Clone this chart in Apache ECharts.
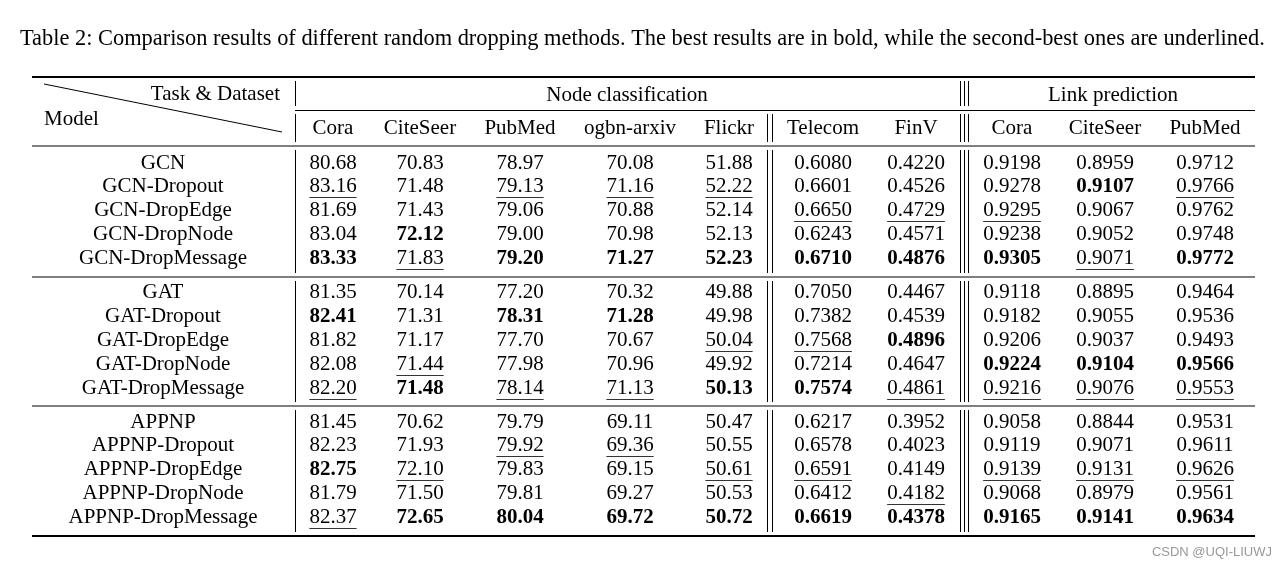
<!DOCTYPE html>
<html>
<head>
<meta charset="utf-8">
<script src="https://cdn.jsdelivr.net/npm/echarts@6/dist/echarts.min.js"></script>
<style>
  html, body { margin: 0; padding: 0; background: #fff; }
  #main { width: 1287px; height: 568px; }
</style>
</head>
<body>
<div id="main"></div>
<script>
// ---- data ----
const TITLE = 'Table 2: Comparison results of different random dropping methods. The best results are in bold, while the second-best ones are underlined.';
const TASKS = ['Node classification', 'Link prediction'];
const DATASETS = ['Cora', 'CiteSeer', 'PubMed', 'ogbn-arxiv', 'Flickr', 'Telecom', 'FinV', 'Cora', 'CiteSeer', 'PubMed'];
const DECIMALS = [2, 2, 2, 2, 2, 4, 4, 4, 4, 4];

const MODELS = [
  'GCN', 'GCN-Dropout', 'GCN-DropEdge', 'GCN-DropNode', 'GCN-DropMessage',
  'GAT', 'GAT-Dropout', 'GAT-DropEdge', 'GAT-DropNode', 'GAT-DropMessage',
  'APPNP', 'APPNP-Dropout', 'APPNP-DropEdge', 'APPNP-DropNode', 'APPNP-DropMessage'
];

const SCORES = [
  [80.68, 70.83, 78.97, 70.08, 51.88, 0.6080, 0.4220, 0.9198, 0.8959, 0.9712],
  [83.16, 71.48, 79.13, 71.16, 52.22, 0.6601, 0.4526, 0.9278, 0.9107, 0.9766],
  [81.69, 71.43, 79.06, 70.88, 52.14, 0.6650, 0.4729, 0.9295, 0.9067, 0.9762],
  [83.04, 72.12, 79.00, 70.98, 52.13, 0.6243, 0.4571, 0.9238, 0.9052, 0.9748],
  [83.33, 71.83, 79.20, 71.27, 52.23, 0.6710, 0.4876, 0.9305, 0.9071, 0.9772],
  [81.35, 70.14, 77.20, 70.32, 49.88, 0.7050, 0.4467, 0.9118, 0.8895, 0.9464],
  [82.41, 71.31, 78.31, 71.28, 49.98, 0.7382, 0.4539, 0.9182, 0.9055, 0.9536],
  [81.82, 71.17, 77.70, 70.67, 50.04, 0.7568, 0.4896, 0.9206, 0.9037, 0.9493],
  [82.08, 71.44, 77.98, 70.96, 49.92, 0.7214, 0.4647, 0.9224, 0.9104, 0.9566],
  [82.20, 71.48, 78.14, 71.13, 50.13, 0.7574, 0.4861, 0.9216, 0.9076, 0.9553],
  [81.45, 70.62, 79.79, 69.11, 50.47, 0.6217, 0.3952, 0.9058, 0.8844, 0.9531],
  [82.23, 71.93, 79.92, 69.36, 50.55, 0.6578, 0.4023, 0.9119, 0.9071, 0.9611],
  [82.75, 72.10, 79.83, 69.15, 50.61, 0.6591, 0.4149, 0.9139, 0.9131, 0.9626],
  [81.79, 71.50, 79.81, 69.27, 50.53, 0.6412, 0.4182, 0.9068, 0.8979, 0.9561],
  [82.37, 72.65, 80.04, 69.72, 50.72, 0.6619, 0.4378, 0.9165, 0.9141, 0.9634]
];

// column indexes of best (bold) / second-best (underlined) per row
const BEST = [
  [], [8], [], [1], [0, 2, 3, 4, 5, 6, 7, 9],
  [], [0, 2, 3], [6], [7, 8, 9], [1, 4, 5],
  [], [], [0], [], [1, 2, 3, 4, 5, 6, 7, 8, 9]
];
const SECOND = [
  [], [0, 2, 3, 4, 9], [5, 6, 7], [], [1, 8],
  [], [], [4, 5], [1], [0, 2, 3, 6, 7, 8, 9],
  [], [2, 3], [1, 4, 5, 7, 8, 9], [6], [0]
];

// ---- layout (table coordinates, px) ----
const COL_X = [333, 420, 520, 630, 729, 823, 916, 1012, 1105, 1205];
const MODEL_X = 163;
const HEAD1_Y = 95, HEAD2_Y = 128;
const GROUP_Y = [163, 292.5, 422];
const ROW_STEP = 23.9;
const LEFT = 32, RIGHT = 1255;
const FONT = '"Liberation Serif", "Times New Roman", serif';
const SIZE = 21;

const measureCtx = document.createElement('canvas').getContext('2d');
function textWidth(text, font) {
  measureCtx.font = font;
  return measureCtx.measureText(text).width;
}

function rowY(r) {
  return GROUP_Y[Math.floor(r / 5)] + (r % 5) * ROW_STEP;
}

// text cells
const cells = [];
cells.push({ x: 280, y: 94, text: 'Task & Dataset', align: 'right' });
cells.push({ x: 44, y: 119, text: 'Model', align: 'left' });
cells.push({ x: 627, y: HEAD1_Y, text: TASKS[0], align: 'center' });
cells.push({ x: 1113, y: HEAD1_Y, text: TASKS[1], align: 'center' });
DATASETS.forEach((d, c) => cells.push({ x: COL_X[c], y: HEAD2_Y, text: d, align: 'center' }));
MODELS.forEach((m, r) => {
  cells.push({ x: MODEL_X, y: rowY(r), text: m, align: 'center' });
  SCORES[r].forEach((v, c) => {
    cells.push({
      x: COL_X[c], y: rowY(r), text: v.toFixed(DECIMALS[c]), align: 'center',
      bold: BEST[r].indexOf(c) >= 0, under: SECOND[r].indexOf(c) >= 0
    });
  });
});

// rules: [x1, y1, x2, y2, width]
const rules = [
  [LEFT, 77, RIGHT, 77, 2],
  [295, 110.5, RIGHT, 110.5, 1],
  [LEFT, 146, RIGHT, 146, 1.2],
  [LEFT, 277, RIGHT, 277, 1.2],
  [LEFT, 406, RIGHT, 406, 1.2],
  [LEFT, 536, RIGHT, 536, 2],
  [44, 84, 282, 132, 1]
];
const SEG_ALL = [[81, 106], [114, 142], [150, 273], [281, 402], [410, 532]];
const SEG_LOW = SEG_ALL.slice(1);
[[295.5, SEG_ALL], [767.5, SEG_LOW], [772.5, SEG_LOW],
 [960.5, SEG_ALL], [964.5, SEG_ALL], [968.5, SEG_ALL]].forEach(([x, segs]) => {
  segs.forEach(s => rules.push([x, s[0], x, s[1], 1]));
});

function renderCell(params, api) {
  const cell = cells[params.dataIndex];
  const p = api.coord([api.value(0), api.value(1)]);
  const font = (cell.bold ? 'bold ' : '') + SIZE + 'px ' + FONT;
  const children = [{
    type: 'text',
    x: p[0],
    y: p[1],
    style: { text: cell.text, font: font, fill: '#000', align: cell.align, verticalAlign: 'middle' }
  }];
  if (cell.under) {
    const w = textWidth(cell.text, font);
    const uy = Math.round(p[1] + 10.5) + 0.5;
    children.push({
      type: 'line',
      shape: { x1: p[0] - w / 2, y1: uy, x2: p[0] + w / 2, y2: uy },
      style: { stroke: '#333', lineWidth: 1 }
    });
  }
  return { type: 'group', children: children };
}

function renderRule(params, api) {
  const a = api.coord([api.value(0), api.value(1)]);
  const b = api.coord([api.value(2), api.value(3)]);
  return {
    type: 'line',
    shape: { x1: a[0], y1: a[1], x2: b[0], y2: b[1] },
    style: { stroke: '#000', lineWidth: api.value(4) }
  };
}

const chart = echarts.init(document.getElementById('main'), null, { renderer: 'canvas' });
const option = {
  animation: false,
  backgroundColor: '#fff',
  title: [
    {
      text: TITLE,
      left: 15,
      top: 23,
      textStyle: { fontFamily: FONT, fontSize: 22.4, fontWeight: 'normal', color: '#000' }
    },
    {
      text: 'CSDN @UQI-LIUWJ',
      right: 10,
      top: 541,
      textStyle: { fontFamily: '"Liberation Sans", Arial, sans-serif', fontSize: 13, fontWeight: 'normal', color: '#999' }
    }
  ],
  grid: { left: 0, right: 0, top: 0, bottom: 0 },
  xAxis: { type: 'value', min: 0, max: 1287, show: false },
  yAxis: { type: 'value', min: 0, max: 568, inverse: true, show: false },
  series: [
    {
      type: 'custom',
      name: 'rules',
      silent: true,
      clip: false,
      renderItem: renderRule,
      data: rules
    },
    {
      type: 'custom',
      name: 'cells',
      silent: true,
      clip: false,
      renderItem: renderCell,
      data: cells.map(c => [c.x, c.y])
    }
  ]
};
chart.setOption(option);
</script>
</body>
</html>
